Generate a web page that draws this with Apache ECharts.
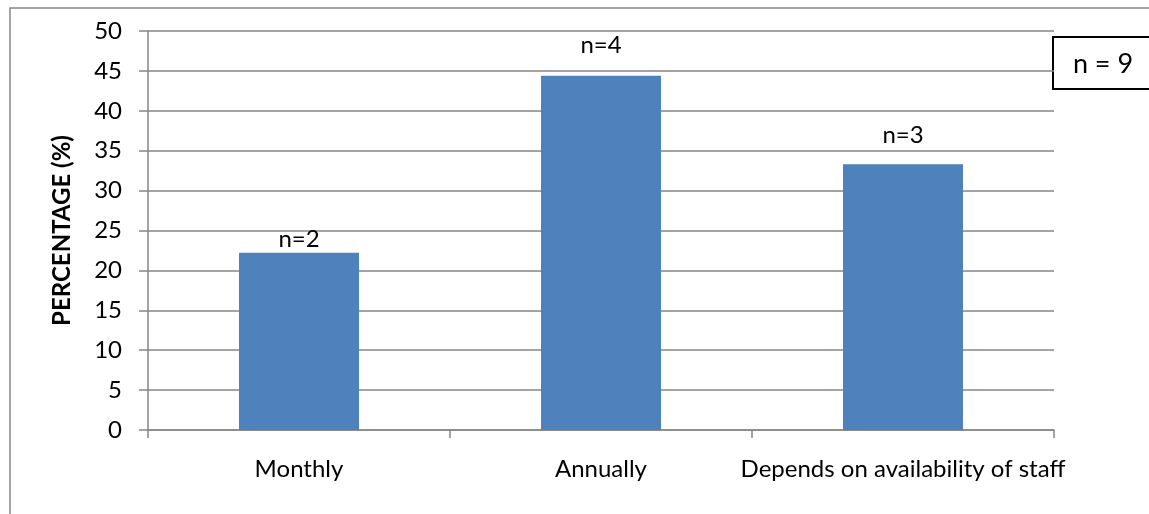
<!DOCTYPE html>
<html>
<head>
<meta charset="utf-8">
<style>
  html, body { margin: 0; padding: 0; background: #fff; }
  #chart { width: 1149px; height: 514px; }
</style>
<script src="https://cdn.jsdelivr.net/npm/echarts@6/dist/echarts.min.js"></script>
</head>
<body>
<div id="chart"></div>
<script>
// Frequency categories and share of respondents (%)
const categories = ['Monthly', 'Annually', 'Depends on availability of staff'];
const percentages = [22.2, 44.4, 33.3];
const counts = ['n=2', 'n=4', 'n=3'];
const labelGaps = [2, 18, 17];
const yTicks = { min: 0, max: 50, interval: 5 };
const sampleNote = 'n = 9';

const FONT = 'Lato, "Open Sans", sans-serif';
const GRID = '#868686';

const chart = echarts.init(document.getElementById('chart'), null, { renderer: 'canvas' });

chart.setOption({
  animation: false,
  grid: { left: 148, right: 95, top: 31, bottom: 84, containLabel: false },
  xAxis: {
    type: 'category',
    data: categories,
    axisLine: { lineStyle: { color: GRID, width: 1.5 } },
    axisTick: { show: true, length: 8, lineStyle: { color: GRID, width: 1.5 } },
    axisLabel: { interval: 0, color: '#000', fontFamily: FONT, fontSize: 24, margin: 27 }
  },
  yAxis: {
    type: 'value',
    min: yTicks.min, max: yTicks.max, interval: yTicks.interval,
    name: 'PERCENTAGE (%)',
    nameLocation: 'middle',
    nameGap: 74,
    nameRotate: 90,
    nameTextStyle: { color: '#000', fontFamily: FONT, fontSize: 24, fontWeight: 'bold' },
    axisLine: { show: true, lineStyle: { color: GRID, width: 1.5 } },
    axisTick: { show: true, length: 9, inside: false, lineStyle: { color: GRID, width: 1.5 } },
    axisLabel: { color: '#000', fontFamily: FONT, fontSize: 24, margin: 26 },
    splitLine: { lineStyle: { color: GRID, width: 1.5 } }
  },
  series: [{
    type: 'bar',
    barWidth: 120,
    itemStyle: { color: '#4F81BD' },
    data: percentages.map((v, i) => ({
      value: v,
      label: {
        show: true,
        position: 'top',
        distance: labelGaps[i],
        formatter: counts[i],
        color: '#000',
        fontFamily: FONT,
        fontSize: 24
      }
    }))
  }],
  graphic: [
    {
      type: 'rect',
      silent: true,
      shape: { x: 10, y: 8, width: 1160, height: 530 },
      style: { fill: 'none', stroke: '#868686', lineWidth: 1.5 }
    },
    {
      type: 'group',
      left: 1052, top: 36,
      children: [
        {
          type: 'rect',
          shape: { x: 0, y: 0, width: 110, height: 52 },
          style: { fill: '#fff', stroke: '#000', lineWidth: 2 }
        },
        {
          type: 'text',
          x: 50, y: 27,
          style: {
            text: sampleNote, fill: '#000', fontFamily: FONT, fontSize: 27,
            align: 'center', verticalAlign: 'middle'
          }
        }
      ]
    }
  ]
});
</script>
</body>
</html>
